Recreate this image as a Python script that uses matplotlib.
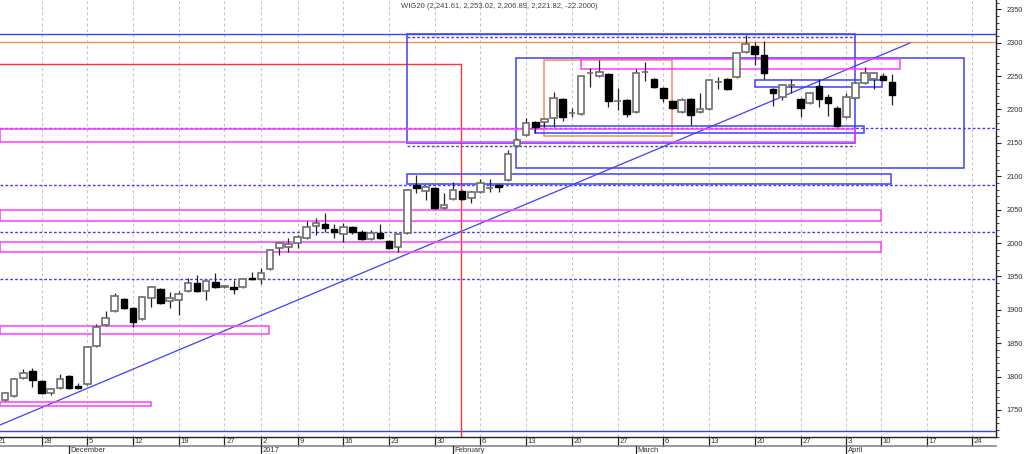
import matplotlib
matplotlib.use("Agg")
import matplotlib.pyplot as plt
from matplotlib.patches import Rectangle
from matplotlib.ticker import MultipleLocator
import numpy as np

# ---------------- data ----------------
opens = [1764.9, 1770.9, 1797.9, 1808.4, 1793.4, 1775.4, 1782.9, 1800.9, 1785.9, 1788.9,
         1845.8, 1877.2, 1898.2, 1916.2, 1902.7, 1886.2, 1917.7, 1931.1, 1913.2, 1914.7,
         1928.1, 1940.1, 1928.1, 1941.6, 1934.1, 1934.1, 1934.1, 1947.6, 1946.1, 1961.1,
         1992.5, 1994.0, 2000.0, 2007.5, 2025.5, 2028.5, 2021.0, 2013.5, 2024.0, 2016.5,
         2006.0, 2015.0, 2003.0, 1994.0, 2015.0, 2086.9, 2077.9, 2082.4, 2052.5, 2065.9,
         2077.9, 2067.4, 2076.4, 2082.4, 2086.9, 2094.4, 2145.3, 2161.8, 2181.2, 2181.2,
         2187.2, 2215.7, 2194.0, 2193.2, 2254.0, 2250.1, 2253.1, 2212.0, 2214.2, 2196.2,
         2255.4, 2245.6, 2232.1, 2212.7, 2196.2, 2215.7, 2196.2, 2200.7, 2240.5, 2245.6,
         2248.6, 2286.1, 2295.0, 2281.6, 2230.6, 2218.7, 2236.0, 2215.7, 2209.7, 2235.1,
         2218.7, 2202.2, 2188.7, 2217.2, 2239.6, 2245.6, 2250.1, 2241.61]
highs = [1777.0, 1798.0, 1811.4, 1812.8, 1795.0, 1783.0, 1803.9, 1802.0, 1790.4, 1846.0,
         1878.7, 1898.2, 1925.2, 1918.0, 1904.0, 1920.0, 1935.5, 1932.5, 1926.7, 1928.1,
         1947.6, 1952.1, 1944.6, 1955.1, 1937.0, 1944.6, 1947.5, 1956.6, 1962.6, 1991.0,
         2001.5, 2007.5, 2012.0, 2033.0, 2037.5, 2045.0, 2028.5, 2030.0, 2025.5, 2019.5,
         2019.5, 2028.5, 2004.5, 2015.0, 2081.0, 2101.9, 2085.5, 2084.0, 2074.9, 2091.4,
         2079.4, 2078.0, 2095.9, 2095.9, 2088.4, 2139.3, 2157.3, 2187.2, 2182.7, 2187.2,
         2226.2, 2217.2, 2202.2, 2251.6, 2262.1, 2274.1, 2254.6, 2232.1, 2215.7, 2260.6,
         2271.1, 2247.0, 2233.6, 2214.2, 2217.2, 2217.2, 2224.7, 2245.6, 2248.6, 2247.0,
         2286.1, 2311.5, 2301.0, 2302.5, 2232.0, 2238.0, 2245.6, 2217.2, 2226.2, 2245.6,
         2223.2, 2205.2, 2224.7, 2241.1, 2263.6, 2256.0, 2254.6, 2253.02]
lows = [1763.0, 1769.0, 1796.0, 1784.4, 1773.9, 1772.4, 1781.0, 1781.5, 1781.5, 1787.0,
        1844.0, 1876.0, 1897.0, 1901.2, 1874.2, 1884.5, 1904.2, 1909.0, 1902.7, 1892.2,
        1926.7, 1926.7, 1914.7, 1932.5, 1933.0, 1923.7, 1932.5, 1944.6, 1938.6, 1959.5,
        1982.1, 1986.6, 1992.5, 2006.0, 2012.0, 2016.5, 2007.5, 2001.5, 2013.5, 2004.5,
        2004.5, 2006.0, 1991.0, 1986.6, 2013.5, 2075.0, 2064.4, 2051.0, 2051.0, 2064.4,
        2064.4, 2059.9, 2075.0, 2076.4, 2076.4, 2093.0, 2143.8, 2160.3, 2164.8, 2173.7,
        2173.7, 2182.7, 2188.7, 2191.7, 2233.6, 2248.6, 2203.7, 2199.2, 2188.7, 2194.7,
        2242.6, 2232.0, 2211.2, 2200.7, 2194.7, 2176.7, 2194.7, 2199.2, 2230.6, 2229.0,
        2247.0, 2284.6, 2266.6, 2245.6, 2205.2, 2214.2, 2224.7, 2188.7, 2208.2, 2203.7,
        2190.2, 2173.7, 2187.2, 2215.7, 2238.0, 2230.6, 2244.0, 2206.89]
closes = [1775.4, 1796.4, 1805.4, 1794.9, 1775.4, 1781.4, 1796.4, 1782.9, 1782.9, 1844.3,
          1874.2, 1887.7, 1920.7, 1902.7, 1881.7, 1918.5, 1934.1, 1910.2, 1917.7, 1923.7,
          1940.1, 1928.1, 1943.1, 1934.1, 1935.6, 1931.1, 1946.1, 1946.1, 1955.1, 1989.5,
          2000.0, 1998.5, 2009.0, 2024.0, 2030.0, 2022.5, 2016.5, 2024.0, 2016.5, 2006.0,
          2015.0, 2007.5, 1992.5, 2013.5, 2079.4, 2082.4, 2083.9, 2052.5, 2056.9, 2079.4,
          2065.9, 2076.4, 2089.9, 2083.0, 2083.9, 2133.3, 2154.3, 2179.7, 2173.7, 2185.7,
          2217.2, 2188.7, 2194.7, 2250.1, 2254.6, 2256.1, 2212.7, 2212.7, 2193.2, 2254.6,
          2256.1, 2233.6, 2217.2, 2202.2, 2214.2, 2191.7, 2200.7, 2244.1, 2241.1, 2230.6,
          2284.6, 2298.0, 2283.1, 2254.6, 2224.7, 2236.6, 2236.6, 2202.2, 2224.7, 2215.7,
          2209.7, 2175.2, 2218.7, 2239.6, 2254.6, 2254.6, 2244.02, 2221.82]

title = "WIG20 (2,241.61, 2,253.02, 2,206.89, 2,221.82, -22.2000)"

day_labels = ["21", "28", "5", "12", "19", "27", "2", "9", "16", "23", "30", "6",
              "13", "20", "27", "6", "13", "20", "27", "3", "10", "17", "24"]
day_pos = [-1, 4, 9, 14, 19, 24, 28, 32, 37, 42, 47, 52, 57, 62, 67, 72, 77, 82, 87, 92,
           95.8, 100.8, 105.75]
month_labels = ["December", "2017", "February", "March", "April"]
month_pos = [7, 28, 49, 69, 92]

price_ticks = list(range(1750, 2351, 50))

# drawn study objects (index, price)
hlines_solid = [(2313.0, "blue"), (2301.0, "orange"), (1718.5, "blue")]
hlines_dashed = [2172.2, 2086.9, 2015.8, 1946.1]
trend = ([-0.55, 98.97], [1727.5, 2299.5])
red_corner = (49.87, 2268.1)
rects = [  # x0, x1, y0, y1, colour key
    (43.96, 92.96, 2149.8, 2313.0, "blue"),
    (55.88, 104.9, 2112.4, 2277.1, "blue"),
    (58.95, 72.94, 2160.3, 2274.1, "orange"),
    (62.99, 97.88, 2260.6, 2275.6, "magenta"),
    (82.02, 95.91, 2233.6, 2244.1, "blue"),
    (57.96, 93.94, 2164.8, 2175.2, "blue"),
    (-0.6, 92.96, 2151.3, 2170.7, "magenta"),
    (43.96, 96.89, 2088.4, 2103.4, "blue"),
    (-0.6, 95.8, 2033.0, 2049.5, "magenta"),
    (-0.6, 95.8, 1986.6, 2001.5, "magenta"),
    (-0.6, 28.87, 1863.8, 1875.7, "magenta"),
    (-0.6, 15.97, 1755.9, 1761.9, "magenta"),
]
box_inner_dashed = [(43.96, 92.96, 2308.5), (43.96, 92.96, 2145.3)]

# ---------------- style ----------------
COL = {"blue": "#3f3fff", "magenta": "#ff3cff", "orange": "#ff8a55", "red": "#ff3535"}
FONT = ["Liberation Sans", "DejaVu Sans"]
plt.rcParams["font.family"] = FONT

W, H = 1024, 454
fig = plt.figure(figsize=(W / 100, H / 100), dpi=100)
fig.patch.set_facecolor("white")
ax = fig.add_axes([0, 17 / H, 996 / W, 437 / H])
ax.set_xlim(-0.547, 108.38)
ax.set_ylim(1709.5, 2363.93)

for s in ["top", "left"]:
    ax.spines[s].set_visible(False)
for s in ["right", "bottom"]:
    ax.spines[s].set_color("#222222")
    ax.spines[s].set_linewidth(1.0)

ax.set_xticks([])
ax.yaxis.tick_right()
ax.set_yticks(price_ticks)
ax.set_yticklabels([str(t) for t in price_ticks])
ax.yaxis.set_minor_locator(MultipleLocator(10))
ax.tick_params(axis="y", which="major", length=3.5, width=0.8, pad=4,
               labelsize=5.3, labelcolor="#333333", color="#222222")
ax.tick_params(axis="y", which="minor", length=2, width=0.6, color="#222222")

# vertical grid
for p in day_pos:
    ax.axvline(p, color="#c4c4c4", lw=0.8, ls=(0, (2.5, 2.5)), zorder=0)

# study lines
for y, c in hlines_solid:
    ax.axhline(y, color=COL[c], lw=1.0, zorder=1)
for y in hlines_dashed:
    ax.axhline(y, color=COL["blue"], lw=1.0, ls=(0, (2, 1.5)), zorder=1)
for x0, x1, y in box_inner_dashed:
    ax.plot([x0, x1], [y, y], color=COL["blue"], lw=1.0, ls=(0, (2, 1.5)), zorder=1)
ax.plot(trend[0], trend[1], color=COL["blue"], lw=0.9, zorder=1)
ax.plot([-0.6, red_corner[0], red_corner[0]], [red_corner[1], red_corner[1], 1700],
        color=COL["red"], lw=1.0, zorder=1)
for x0, x1, y0, y1, c in rects:
    ax.add_patch(Rectangle((x0, y0), x1 - x0, y1 - y0, fill=False,
                           edgecolor=COL[c], lw=1.1, zorder=1))

# candles
xs = np.arange(len(opens))
bw = 0.72
for x, o, h, l, c in zip(xs, opens, highs, lows, closes):
    up = c >= o
    ax.vlines(x, l, h, color="#222222", lw=0.9, zorder=3)
    bot = min(o, c)
    hgt = max(abs(c - o), 0.6)
    if up:
        ax.bar(x, hgt, bottom=bot, width=bw, color="white", edgecolor="#6e6e6e",
               lw=1.2, zorder=4)
    else:
        ax.bar(x, hgt, bottom=bot, width=bw, color="black", edgecolor="black",
               lw=1.0, zorder=4)

# bottom date rows
tr = ax.get_xaxis_transform()
y_tick_bot = -9 / 437
y_month_bot = -17 / 437
for p, lab in zip(day_pos, day_labels):
    ax.plot([p, p], [0, y_tick_bot], transform=tr, color="#222222", lw=0.9,
            clip_on=False)
    ax.text(p + 0.18, -4.5 / 437, lab, transform=tr, fontsize=5.5, color="#333333",
            ha="left", va="center", clip_on=False)
ax.plot([-0.6, 108.38], [y_tick_bot, y_tick_bot], transform=tr, color="#888888",
        lw=1.2, clip_on=False)
for p, lab in zip(month_pos, month_labels):
    ax.plot([p, p], [y_tick_bot, y_month_bot], transform=tr, color="#222222", lw=0.9,
            clip_on=False)
    ax.text(p + 0.18, -13.2 / 437, lab, transform=tr, fontsize=5.5, color="#333333",
            ha="left", va="center", clip_on=False)

fig.text(499 / W, 1 - 6 / H, title, ha="center", va="center", fontsize=5.5,
         color="#444444")

fig.savefig("out.png", dpi=100, facecolor="white")
